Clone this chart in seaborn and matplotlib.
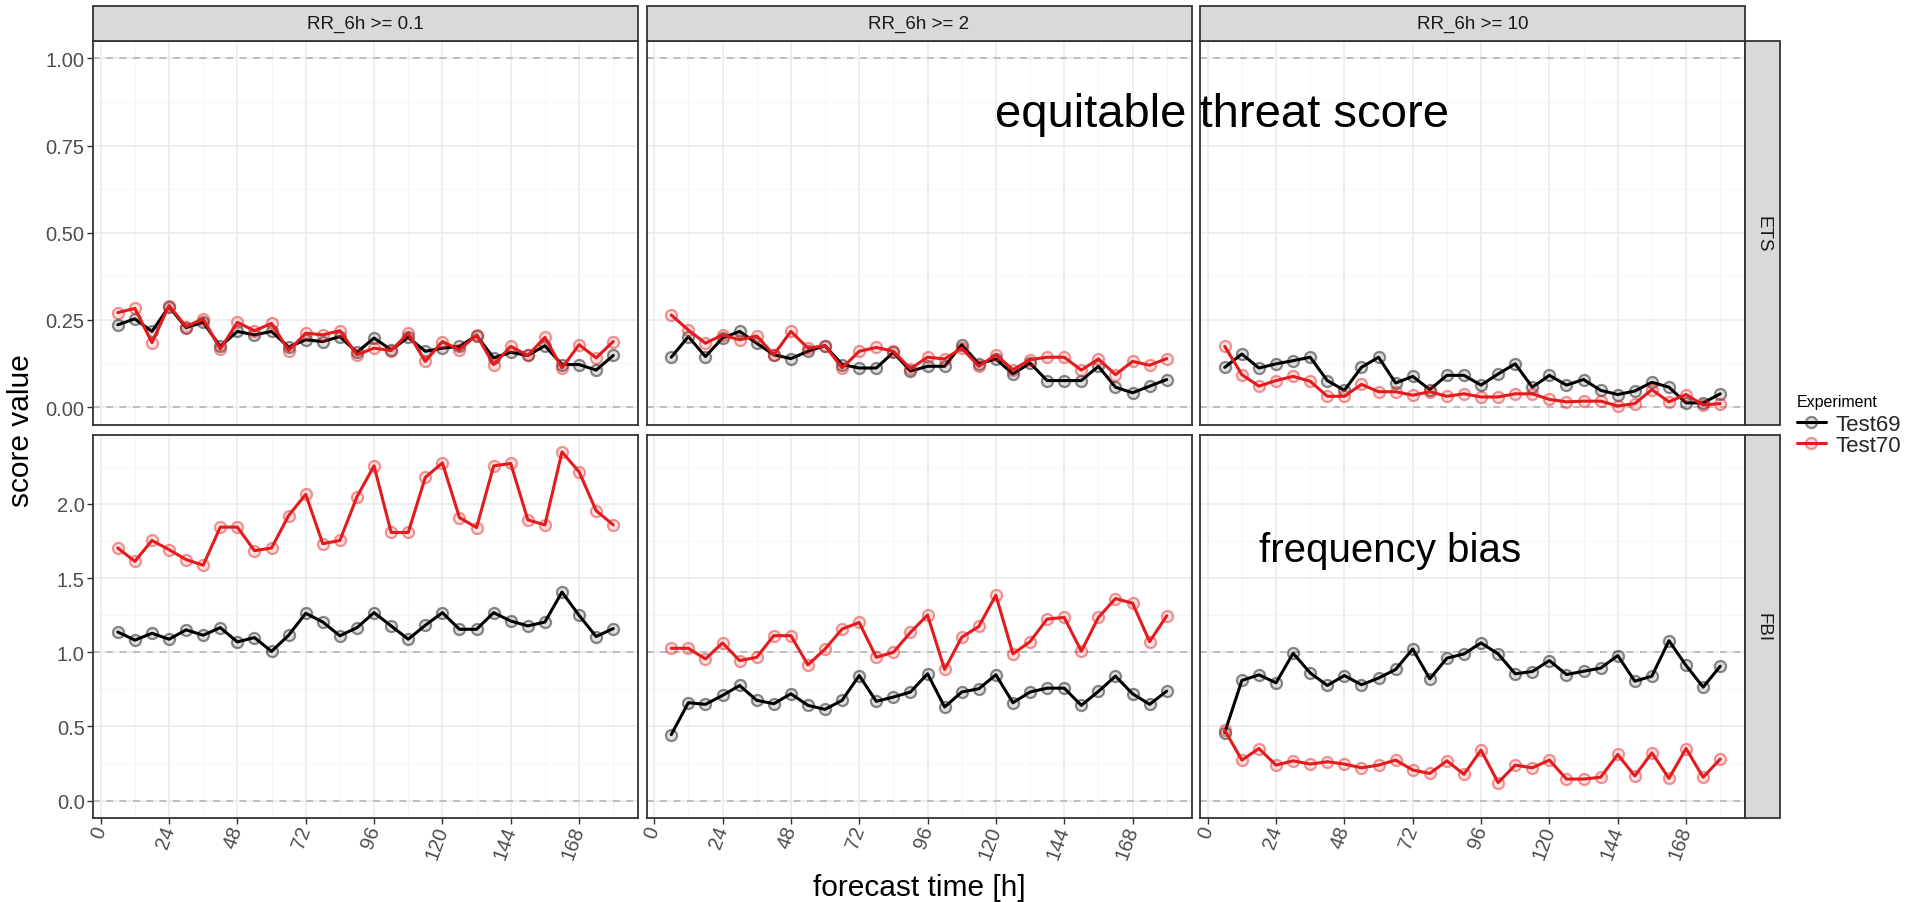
import numpy as np
import pandas as pd
import matplotlib
matplotlib.use("Agg")
import matplotlib.pyplot as plt
import seaborn as sns
from matplotlib.patches import Rectangle
from matplotlib.lines import Line2D
from matplotlib.ticker import FormatStrFormatter
from matplotlib.colors import to_rgba

# ---------------- data ----------------
lead_time = list(range(6, 181, 6))
experiments = ["Test69", "Test70"]
thresholds = ["RR_6h >= 0.1", "RR_6h >= 2", "RR_6h >= 10"]
scores = ["ETS", "FBI"]

ets_test69_01 = [0.236, 0.253, 0.217, 0.288, 0.228, 0.243, 0.174, 0.217, 0.207, 0.217,
                 0.172, 0.193, 0.188, 0.202, 0.157, 0.198, 0.164, 0.200, 0.160, 0.169,
                 0.174, 0.205, 0.141, 0.157, 0.148, 0.176, 0.122, 0.122, 0.106, 0.148]
ets_test70_01 = [0.271, 0.283, 0.185, 0.291, 0.231, 0.253, 0.166, 0.243, 0.219, 0.240,
                 0.162, 0.212, 0.207, 0.219, 0.150, 0.169, 0.162, 0.212, 0.131, 0.188,
                 0.164, 0.207, 0.122, 0.174, 0.148, 0.200, 0.112, 0.179, 0.141, 0.188]
ets_test69_2 = [0.143, 0.202, 0.145, 0.198, 0.217, 0.183, 0.150, 0.139, 0.160, 0.176,
                0.122, 0.112, 0.112, 0.157, 0.103, 0.117, 0.117, 0.179, 0.124, 0.138,
                0.095, 0.126, 0.076, 0.076, 0.076, 0.117, 0.057, 0.041, 0.060, 0.079]
ets_test70_2 = [0.264, 0.221, 0.183, 0.207, 0.193, 0.204, 0.150, 0.217, 0.169, 0.176,
                0.112, 0.160, 0.171, 0.160, 0.110, 0.143, 0.138, 0.169, 0.117, 0.150,
                0.107, 0.136, 0.143, 0.143, 0.106, 0.138, 0.093, 0.131, 0.120, 0.139]
ets_test69_10 = [0.114, 0.152, 0.112, 0.124, 0.133, 0.143, 0.076, 0.048, 0.114, 0.143,
                 0.069, 0.088, 0.050, 0.091, 0.091, 0.063, 0.095, 0.124, 0.057, 0.091,
                 0.063, 0.079, 0.048, 0.036, 0.046, 0.071, 0.057, 0.012, 0.012, 0.038]
ets_test70_10 = [0.174, 0.093, 0.060, 0.076, 0.088, 0.074, 0.031, 0.031, 0.065, 0.044,
                 0.044, 0.034, 0.044, 0.031, 0.038, 0.029, 0.029, 0.038, 0.038, 0.022,
                 0.015, 0.017, 0.017, 0.003, 0.010, 0.050, 0.015, 0.036, 0.006, 0.010]

fbi_test69_01 = [1.137, 1.082, 1.128, 1.088, 1.151, 1.115, 1.166, 1.070, 1.099, 1.006,
                 1.115, 1.263, 1.204, 1.111, 1.166, 1.267, 1.178, 1.088, 1.182, 1.267,
                 1.155, 1.155, 1.267, 1.211, 1.178, 1.204, 1.406, 1.249, 1.106, 1.160]
fbi_test70_01 = [1.703, 1.613, 1.754, 1.692, 1.625, 1.587, 1.844, 1.844, 1.685, 1.703,
                 1.922, 2.065, 1.732, 1.754, 2.049, 2.257, 1.808, 1.808, 2.179, 2.277,
                 1.908, 1.841, 2.257, 2.273, 1.893, 1.859, 2.351, 2.217, 1.955, 1.859]
fbi_test69_2 = [0.445, 0.660, 0.649, 0.709, 0.776, 0.676, 0.653, 0.720, 0.642, 0.615,
                0.676, 0.843, 0.669, 0.698, 0.732, 0.855, 0.631, 0.732, 0.754, 0.848,
                0.660, 0.732, 0.758, 0.758, 0.642, 0.736, 0.839, 0.720, 0.649, 0.738]
fbi_test70_2 = [1.027, 1.027, 0.955, 1.063, 0.944, 0.966, 1.112, 1.112, 0.915, 1.022,
                1.157, 1.201, 0.966, 1.000, 1.134, 1.251, 0.884, 1.101, 1.174, 1.385,
                0.989, 1.072, 1.224, 1.235, 1.007, 1.235, 1.362, 1.331, 1.072, 1.246]
fbi_test69_10 = [0.459, 0.810, 0.848, 0.794, 0.993, 0.861, 0.776, 0.843, 0.781, 0.826,
                 0.884, 1.022, 0.821, 0.960, 0.989, 1.063, 0.989, 0.855, 0.870, 0.944,
                 0.850, 0.872, 0.893, 0.978, 0.805, 0.839, 1.078, 0.911, 0.765, 0.906]
fbi_test70_10 = [0.474, 0.273, 0.351, 0.239, 0.268, 0.246, 0.262, 0.246, 0.221, 0.239,
                 0.273, 0.206, 0.183, 0.268, 0.177, 0.340, 0.121, 0.239, 0.221, 0.273,
                 0.145, 0.145, 0.157, 0.311, 0.166, 0.322, 0.150, 0.351, 0.157, 0.280]

x_breaks = [0, 24, 48, 72, 96, 120, 144, 168]
ref_lines = [0, 1]
annotations = {"ETS": "equitable threat score", "FBI": "frequency bias"}

series = {
    ("ETS", "RR_6h >= 0.1"): (ets_test69_01, ets_test70_01),
    ("ETS", "RR_6h >= 2"): (ets_test69_2, ets_test70_2),
    ("ETS", "RR_6h >= 10"): (ets_test69_10, ets_test70_10),
    ("FBI", "RR_6h >= 0.1"): (fbi_test69_01, fbi_test70_01),
    ("FBI", "RR_6h >= 2"): (fbi_test69_2, fbi_test70_2),
    ("FBI", "RR_6h >= 10"): (fbi_test69_10, fbi_test70_10),
}

rows = []
for (sc, th), vals in series.items():
    for exp, v in zip(experiments, vals):
        for t, val in zip(lead_time, v):
            rows.append({"score": sc, "threshold": th, "Experiment": exp,
                         "time": t, "value": val})
df = pd.DataFrame(rows)

# ---------------- style ----------------
sns.set_theme(style="white")
plt.rcParams["font.family"] = ["Liberation Sans", "DejaVu Sans"]

palette = {"Test69": "#000000", "Test70": "#E41A1C"}

W, H = 1917, 903
left_px, right_px = 93, 1745
top_px, bottom_px = 42, 819
panel_w = 545.0
panel_h = 383.5
strip = 35.0

fig, axes = plt.subplots(
    2, 3, figsize=(W / 100, H / 100), dpi=100, sharex=True, sharey="row",
    gridspec_kw=dict(left=left_px / W, right=right_px / W,
                     top=1 - top_px / H, bottom=1 - bottom_px / H,
                     wspace=8.5 / panel_w, hspace=10 / panel_h))

grid_major = "#EBEBEB"
grid_minor = "#F5F5F5"
border = "#333333"

tmin, tmax = min(lead_time), max(lead_time)
xpad = 0.05 * (tmax - tmin)

for i, sc in enumerate(scores):
    vals_row = df.loc[df.score == sc, "value"]
    lo = min(min(ref_lines), vals_row.min())
    hi = max(max(ref_lines), vals_row.max())
    ypad = 0.05 * (hi - lo)
    for j, th in enumerate(thresholds):
        ax = axes[i, j]
        sub = df[(df.score == sc) & (df.threshold == th)]
        sns.lineplot(data=sub, x="time", y="value", hue="Experiment",
                     hue_order=experiments, palette=palette, marker="o",
                     markersize=8, linewidth=2.2, errorbar=None, legend=False,
                     ax=ax, zorder=3)
        for ln in ax.get_lines():
            c = ln.get_color()
            ln.set_markerfacecolor(to_rgba(c, 0.12))
            ln.set_markeredgecolor(to_rgba(c, 0.45))
            ln.set_markeredgewidth(1.6)
        for r in ref_lines:
            ax.axhline(r, color="#B5B5B5", lw=1.2, ls=(0, (4, 4)), zorder=1.5)

        ax.set_xlim(tmin - xpad, tmax + xpad)
        ax.set_ylim(lo - ypad, hi + ypad)
        ax.set_xticks(x_breaks)
        ax.set_xticks([b + 12 for b in x_breaks], minor=True)
        if sc == "ETS":
            ax.set_yticks([0, 0.25, 0.5, 0.75, 1.0])
            ax.set_yticks([0.125, 0.375, 0.625, 0.875], minor=True)
            ax.yaxis.set_major_formatter(FormatStrFormatter("%.2f"))
        else:
            ax.set_yticks([0, 0.5, 1.0, 1.5, 2.0])
            ax.set_yticks([0.25, 0.75, 1.25, 1.75, 2.25], minor=True)
            ax.yaxis.set_major_formatter(FormatStrFormatter("%.1f"))
        ax.set_axisbelow(True)
        ax.grid(which="major", color=grid_major, lw=1.2)
        ax.grid(which="minor", color=grid_minor, lw=0.7)
        for s in ax.spines.values():
            s.set_color(border)
            s.set_linewidth(1.3)
        ax.tick_params(which="major", length=4, width=1, color=border,
                       labelsize=14.5, labelcolor="#4D4D4D", direction="out",
                       left=(j == 0), bottom=(i == 1), pad=2)
        ax.tick_params(which="minor", length=0)
        ax.set_xlabel("")
        ax.set_ylabel("")
        if i == 1:
            for lab in ax.get_xticklabels():
                lab.set_rotation(70)
                lab.set_ha("right")
                lab.set_va("center")
                lab.set_rotation_mode("anchor")

        # strips
        if i == 0:
            hf = strip / panel_h
            ax.add_patch(Rectangle((0, 1), 1, hf, transform=ax.transAxes,
                                   clip_on=False, fc="#D9D9D9", ec=border, lw=1.3,
                                   zorder=5))
            ax.text(0.5, 1 + hf / 2, th, transform=ax.transAxes, ha="center",
                    va="center", fontsize=13.5, color="#1A1A1A", zorder=6)
        if j == 2:
            wf = strip / panel_w
            ax.add_patch(Rectangle((1, 0), wf, 1, transform=ax.transAxes,
                                   clip_on=False, fc="#D9D9D9", ec=border, lw=1.3,
                                   zorder=5))
            ax.text(1 + wf / 2, 0.5, sc, transform=ax.transAxes, ha="center",
                    va="center", rotation=270, fontsize=13.5, color="#1A1A1A",
                    zorder=6)

# axis titles
fig.text((left_px + right_px) / 2 / W, 1 - 888 / H, "forecast time [h]",
         ha="center", va="center", fontsize=21.5, color="#000000")
fig.text(21 / W, 1 - (top_px + bottom_px) / 2 / H, "score value",
         ha="center", va="center", rotation=90, fontsize=21.5, color="#000000")

# overlay annotations
fig.text(995 / W, 1 - 127 / H, annotations["ETS"], ha="left", va="baseline",
         fontsize=34, color="#000000", zorder=10)
fig.text(1259 / W, 1 - 562 / H, annotations["FBI"], ha="left", va="baseline",
         fontsize=29, color="#000000", zorder=10)

# legend
fig.text(1797 / W, 1 - 402 / H, "Experiment", ha="left", va="center",
         fontsize=11.5, color="#000000")
handles = []
for exp in experiments:
    c = palette[exp]
    handles.append(Line2D([], [], color=c, lw=2.2, marker="o", markersize=8,
                          markerfacecolor=to_rgba(c, 0.12),
                          markeredgecolor=to_rgba(c, 0.45), markeredgewidth=1.6))
leg = fig.legend(handles, experiments, loc="upper left",
                 bbox_to_anchor=(1797 / W, 1 - 415 / H), frameon=False,
                 fontsize=16, handlelength=1.3, handletextpad=0.45,
                 labelspacing=0.0, borderpad=0, borderaxespad=0, numpoints=1)

fig.savefig("out.png", dpi=100)
